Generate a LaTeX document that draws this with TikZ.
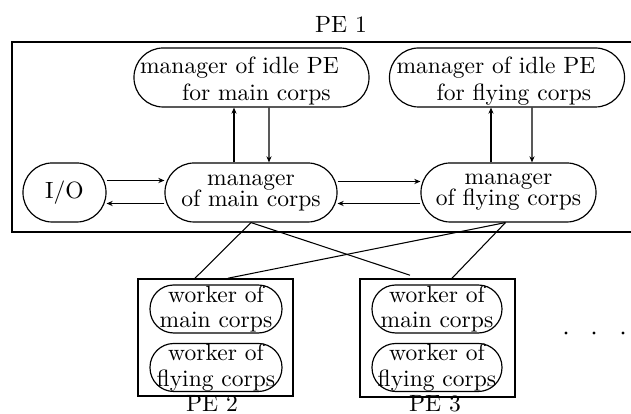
\documentclass[tikz,border=0pt]{standalone}
\usetikzlibrary{arrows.meta,calc}
% one drawing unit = one pixel of the 631 x 414 layout
\newdimen\pxu \pxu=0.425pt
% let two-line labels sit closer than their glyph heights allow
\lineskiplimit=-10pt
\begin{document}
\begin{tikzpicture}[x=0.425pt,y=-0.425pt,
  every node/.style={font=\fontsize{10}{11}\selectfont},
  stadium/.style={draw,rectangle,line width=0.5pt,inner sep=0pt},
  idlebox/.style={stadium,align=left,minimum width={235*\pxu},minimum height={59*\pxu},rounded corners=12.4pt,
    font=\fontsize{10}{11.6}\selectfont},
  mgrbox/.style={stadium,align=center,minimum height={59*\pxu},rounded corners=12.4pt,
    font=\fontsize{10}{8.9}\selectfont},
  iobox/.style={stadium,minimum width={83*\pxu},minimum height={59*\pxu},rounded corners=12.4pt},
  workerbox/.style={stadium,align=center,minimum height={48*\pxu},rounded corners=10.1pt,
    font=\fontsize{10}{11}\selectfont},
  pebox/.style={draw,rectangle,line width=0.65pt,inner sep=0pt,minimum width={155*\pxu}},
  frame/.style={line width=0.75pt},
  arr/.style={line width=0.45pt,-{Stealth[length=2.6pt,width=2.2pt]}},
  link/.style={line width=0.45pt},
  dotmark/.style={circle,fill,inner sep=0pt,minimum size={3.2*\pxu}}
]
\useasboundingbox (0,0) rectangle (631,414);

% processing element 1 (open towards the right)
\draw[frame] (640,42) -- (12,42) -- (12,232) -- (640,232);
\node[anchor=base] (lab1) at (341,33) {PE 1};

% managers of idle processing elements (text set a little low and indented)
\node[idlebox] (idleMain) at (251.5,77.5)
  {\rule{0pt}{24\pxu}manager of idle PE\rule{24\pxu}{0pt}\\\rule{42\pxu}{0pt}for main corps};
\node[idlebox] (idleFly) at (507,77.5)
  {\rule{0pt}{24\pxu}manager of idle PE\rule{22\pxu}{0pt}\\\rule{40\pxu}{0pt}for flying corps};

% I/O and the corps managers
\node[iobox] (io) at (64.5,192.5) {I/O};
\node[mgrbox,minimum width={172*\pxu}] (mgrMain) at (251,192.5) {manager\\of main corps};
\node[mgrbox,minimum width={175*\pxu}] (mgrFly) at (508.5,192.5) {manager\\of flying corps};

% arrows inside PE 1
\draw[arr] ($(io.east)+(0,-12)$) -- ($(mgrMain.west)+(0,-12)$);
\draw[arr] ($(mgrMain.west)+(0,11)$) -- ($(io.east)+(0,11)$);
\draw[arr] ($(mgrMain.east)+(0,-11)$) -- ($(mgrFly.west)+(0,-11)$);
\draw[arr] ($(mgrFly.west)+(0,11)$) -- ($(mgrMain.east)+(0,11)$);
\draw[arr] ($(mgrMain.north)+(-17,0)$) -- ($(idleMain.south)+(-17.5,0)$);
\draw[arr] ($(idleMain.south)+(17.5,0)$) -- ($(mgrMain.north)+(18,0)$);
\draw[arr] ($(mgrFly.north)+(-17.5,0)$) -- ($(idleFly.south)+(-16,0)$);
\draw[arr] ($(idleFly.south)+(25,0)$) -- ($(mgrFly.north)+(23.5,0)$);

% worker processing elements
\node[pebox,minimum height={117*\pxu}] (pe2) at (215.5,337.5) {};
\node[pebox,minimum height={118*\pxu}] (pe3) at (437.5,338) {};
\node[workerbox,minimum width={132*\pxu}] (wm2) at (216,309) {worker of\\main corps};
\node[workerbox,minimum width={132*\pxu}] (wf2) at (216,367.5) {worker of\\flying corps};
\node[workerbox,minimum width={130*\pxu}] (wm3) at (437,309) {worker of\\main corps};
\node[workerbox,minimum width={130*\pxu}] (wf3) at (437,367.5) {worker of\\flying corps};
\node[anchor=base] (lab2) at (212,411.5) {PE 2};
\node[anchor=base] (lab3) at (435,411.5) {PE 3};

% links from the managers to the workers
\draw[link] (mgrMain.south) -- ($(pe2.north)+(-20.5,0)$);
\draw[link] (mgrMain.south) -- ($(pe3.north)+(-27.5,-3)$);
\draw[link] ($(mgrFly.south)+(-3,0)$) -- ($(pe2.north)+(12.5,0)$);
\draw[link] ($(mgrFly.south)+(-3,0)$) -- ($(pe3.north)+(14.5,0)$);

% further processing elements
\node[dotmark] (d1) at (566,333) {};
\node[dotmark] (d2) at (594,333) {};
\node[dotmark] (d3) at (623,333) {};
\end{tikzpicture}
\end{document}
